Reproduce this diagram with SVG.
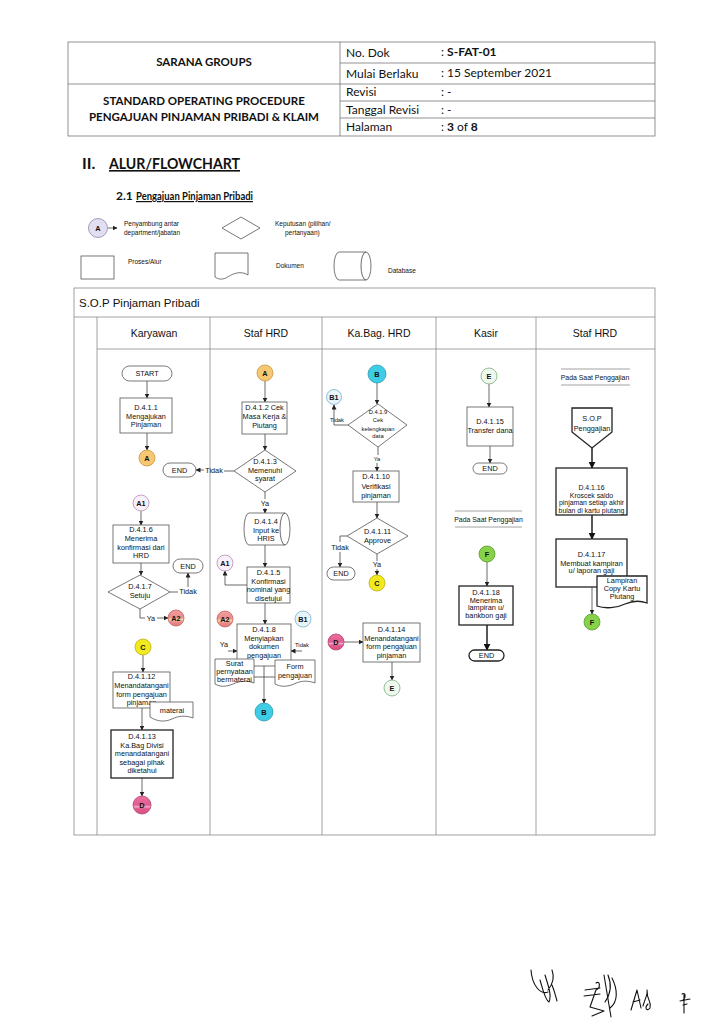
<svg xmlns="http://www.w3.org/2000/svg" width="716" height="1024" viewBox="0 0 716 1024">
<defs>
<marker id="ah" viewBox="0 0 10 10" refX="9" refY="5" markerWidth="5" markerHeight="5" orient="auto" markerUnits="userSpaceOnUse"><path d="M0,0 L10,5 L0,10 Z" fill="#222"/></marker>
<marker id="ahb" viewBox="0 0 10 10" refX="9" refY="5" markerWidth="7" markerHeight="7" orient="auto" markerUnits="userSpaceOnUse"><path d="M0,0 L10,5 L0,10 Z" fill="#111"/></marker>
<linearGradient id="gA2" x1="0" y1="0" x2="0" y2="1"><stop offset="0" stop-color="#f0a0a0"/><stop offset="0.45" stop-color="#e98c8c"/><stop offset="0.6" stop-color="#f8d0a0"/><stop offset="0.75" stop-color="#e98c8c"/><stop offset="1" stop-color="#e07a7a"/></linearGradient>
<linearGradient id="gD" x1="0" y1="0" x2="0" y2="1"><stop offset="0" stop-color="#ec70a0"/><stop offset="0.5" stop-color="#e25c8e"/><stop offset="0.6" stop-color="#f4a8c4"/><stop offset="0.7" stop-color="#e25c8e"/><stop offset="1" stop-color="#d84e82"/></linearGradient>
</defs>
<style>
.hd{font-family:Lato,"Liberation Sans",sans-serif;fill:#111}
.hb{font-weight:bold}
.t{font-family:"Liberation Sans",Arial,sans-serif;font-size:7.3px;fill:#111;text-anchor:middle}
.t2{font-size:6.9px}
.ts{font-family:"Liberation Sans",Arial,sans-serif;font-size:5.8px;fill:#111;text-anchor:middle}
.lg{font-family:"Liberation Sans",Arial,sans-serif;font-size:6.5px;fill:#111}
.ln{font-family:"Liberation Sans",Arial,sans-serif;font-size:10.5px;fill:#111;text-anchor:middle}
.bx{fill:#fff;stroke:#555;stroke-width:0.8}
.bk{fill:#fff;stroke:#222;stroke-width:1.3}
.c{stroke-width:0.8}
.tb{fill:none;stroke:#777;stroke-width:0.8}
.lane{fill:none;stroke:#8a8a8a;stroke-width:0.8}
.cn{fill:none;stroke:#444;stroke-width:0.8;marker-end:url(#ah)}
.cp{fill:none;stroke:#444;stroke-width:0.8}
.ck{fill:none;stroke:#111;stroke-width:1.4;marker-end:url(#ahb)}
.sg{fill:none;stroke:#111;stroke-width:1.1;stroke-linecap:round;stroke-linejoin:round}
</style>

<g id="header">
<rect class="tb" x="68" y="42" width="587" height="94"/>
<line class="tb" x1="340" y1="42" x2="340" y2="136"/>
<line class="tb" x1="68" y1="84" x2="340" y2="84"/>
<line class="tb" x1="340" y1="63" x2="655" y2="63"/>
<line class="tb" x1="340" y1="84" x2="655" y2="84"/>
<line class="tb" x1="340" y1="101" x2="655" y2="101"/>
<line class="tb" x1="340" y1="118" x2="655" y2="118"/>
<text class="hd hb" x="204" y="66" font-size="11.5" text-anchor="middle">SARANA GROUPS</text>
<text class="hd hb" x="204" y="105" font-size="11.5" text-anchor="middle">STANDARD OPERATING PROCEDURE</text>
<text class="hd hb" x="204" y="121" font-size="11.5" text-anchor="middle">PENGAJUAN PINJAMAN PRIBADI &amp; KLAIM</text>
<text class="hd" x="346" y="57" font-size="12">No. Dok</text>
<text class="hd" x="346" y="78" font-size="12">Mulai Berlaku</text>
<text class="hd" x="346" y="96" font-size="12">Revisi</text>
<text class="hd" x="346" y="114" font-size="12">Tanggal Revisi</text>
<text class="hd" x="346" y="131" font-size="12">Halaman</text>
<text class="hd" x="441" y="56" font-size="12">: <tspan font-weight="bold">S-FAT-01</tspan></text>
<text class="hd" x="441" y="77" font-size="12">: 15 September 2021</text>
<text class="hd" x="441" y="96" font-size="12">: -</text>
<text class="hd" x="441" y="114" font-size="12">: -</text>
<text class="hd" x="441" y="131" font-size="12">: <tspan font-weight="bold">3</tspan> of <tspan font-weight="bold">8</tspan></text>
</g>

<g id="titles">
<text class="hd hb" x="82" y="169" font-size="16">II.</text>
<text class="hd hb" x="109" y="169" font-size="16" text-decoration="underline" textLength="131" lengthAdjust="spacingAndGlyphs">ALUR/FLOWCHART</text>
<text class="hd hb" x="116" y="200" font-size="12">2.1</text>
<text class="hd hb" x="136" y="200" font-size="12" text-decoration="underline" textLength="117" lengthAdjust="spacingAndGlyphs">Pengajuan Pinjaman Pribadi</text>
</g>

<g id="legend">
<circle cx="98" cy="228" r="9.5" fill="#e4dff0" stroke="#8888aa" stroke-width="0.8"/>
<text class="t" x="98" y="230.5" font-weight="bold">A</text>
<line class="cn" x1="108" y1="228" x2="117" y2="228"/>
<text class="lg" x="124" y="226">Penyambung antar</text>
<text class="lg" x="124" y="235">department/jabatan</text>
<polygon class="bx" points="241,217 260,228 241,239 222,228"/>
<text class="lg" x="275" y="226">Keputusan (pilihan/</text>
<text class="lg" x="285" y="235">pertanyaan)</text>
<rect class="bx" x="81" y="256" width="33" height="23"/>
<text class="lg" x="128" y="264">Proses/Alur</text>
<path class="bx" d="M215,253 H248 V275 C240,270 232,274 226,278 C221,280 218,279 215,277 Z"/>
<text class="lg" x="276" y="268">Dokumen</text>
<path class="bx" d="M339,252 H366 A5,14 0 0 1 366,280 H339 A5,14 0 0 1 339,252 Z"/>
<path class="cp" d="M366,252 A5,14 0 0 0 366,280"/>
<text class="lg" x="388" y="273">Database</text>
</g>

<g id="frame">
<rect class="lane" x="74" y="288" width="581" height="547"/>
<line class="lane" x1="74" y1="317" x2="655" y2="317"/>
<line class="lane" x1="97" y1="349" x2="655" y2="349"/>
<line class="lane" x1="97" y1="317" x2="97" y2="835"/>
<line class="lane" x1="210" y1="317" x2="210" y2="835"/>
<line class="lane" x1="322" y1="317" x2="322" y2="835"/>
<line class="lane" x1="436" y1="317" x2="436" y2="835"/>
<line class="lane" x1="536" y1="317" x2="536" y2="835"/>
<text x="79" y="307" font-family="Liberation Sans, Arial, sans-serif" font-size="11.5" fill="#111">S.O.P Pinjaman Pribadi</text>
<text class="ln" x="154" y="337">Karyawan</text>
<text class="ln" x="266" y="337">Staf HRD</text>
<text class="ln" x="379" y="337">Ka.Bag. HRD</text>
<text class="ln" x="486" y="337">Kasir</text>
<text class="ln" x="595" y="337">Staf HRD</text>
</g>

<g id="connectors">
<line class="cn" x1="147" y1="381" x2="147" y2="398"/>
<line class="cn" x1="147" y1="433" x2="147" y2="450"/>
<line class="cn" x1="141" y1="511" x2="141" y2="525"/>
<line class="cn" x1="141" y1="563" x2="141" y2="575"/>
<path class="cp" d="M170,592 H178"/>
<line class="cn" x1="188" y1="587" x2="188" y2="573"/>
<path class="cp" d="M140,609 V618 H145"/>
<line class="cn" x1="157" y1="618" x2="168" y2="618"/>
<line class="cn" x1="143" y1="655" x2="143" y2="672"/>
<line class="cn" x1="142" y1="708" x2="142" y2="730"/>
<line class="cn" x1="142" y1="778" x2="142" y2="796"/>

<line class="cn" x1="265" y1="381" x2="265" y2="402"/>
<line class="cn" x1="265" y1="434" x2="265" y2="450"/>
<path class="cp" d="M234,471 H224"/>
<line class="cn" x1="204" y1="470" x2="196" y2="470"/>
<line class="cp" x1="265" y1="492" x2="265" y2="499"/>
<line class="cn" x1="265" y1="508" x2="265" y2="513"/>
<line class="cn" x1="265" y1="545" x2="265" y2="567"/>
<path class="cn" d="M247,585 H225 V571"/>
<line class="cn" x1="265" y1="603" x2="265" y2="624"/>
<line class="cn" x1="228" y1="651" x2="237" y2="651"/>
<line class="cn" x1="302" y1="651" x2="291" y2="651"/>
<line class="cp" x1="254" y1="677" x2="275" y2="677"/>
<line class="cn" x1="264" y1="666" x2="264" y2="703"/>

<line class="cn" x1="377" y1="383" x2="377" y2="404"/>
<path class="cn" d="M348,425 H334 V405"/>
<line class="cp" x1="378" y1="447" x2="378" y2="455"/>
<line class="cn" x1="377" y1="463" x2="377" y2="471"/>
<line class="cn" x1="377" y1="502" x2="377" y2="518"/>
<path class="cp" d="M347,536 H340 V542"/>
<line class="cn" x1="340" y1="552" x2="340" y2="567"/>
<line class="cp" x1="377" y1="554" x2="377" y2="561"/>
<line class="cn" x1="377" y1="569" x2="377" y2="575"/>
<line class="cn" x1="344" y1="642" x2="363" y2="642"/>
<line class="cn" x1="392" y1="662" x2="392" y2="680"/>

<line class="cn" x1="489" y1="384" x2="489" y2="407"/>
<line class="cn" x1="490" y1="446" x2="490" y2="463"/>
<line class="cn" x1="487" y1="562" x2="487" y2="586"/>
<line class="ck" x1="487" y1="625" x2="487" y2="650"/>

<line class="ck" x1="592" y1="448" x2="592" y2="468"/>
<line class="ck" x1="592" y1="515" x2="592" y2="539"/>
<line class="cn" x1="592" y1="587" x2="592" y2="614"/>
</g>

<g id="n-start"><rect class="bx" x="122" y="366" width="50" height="15" rx="7.5"/><text class="t" x="147" y="376">START</text></g>
<g id="n-d411"><rect class="bx" x="120" y="398" width="52" height="35"/><text class="t" x="146" y="410">D.4.1.1</text><text class="t" x="146" y="418.5">Mengajukan</text><text class="t" x="146" y="427">Pinjaman</text></g>
<g id="n-a-k"><circle class="c" cx="147" cy="458" r="8" fill="#f7c873" stroke="#c8963c"/><text class="t" x="147" y="460.5" font-weight="bold">A</text></g>
<g id="n-a1-k"><circle class="c" cx="141" cy="503" r="8" fill="#f8f0fa" stroke="#b58cb5"/><text class="t" x="141" y="505.5" font-weight="bold">A1</text></g>
<g id="n-d416"><rect class="bx" x="113" y="525" width="56" height="38"/><text class="t" x="141" y="532">D.4.1.6</text><text class="t" x="141" y="541">Menerima</text><text class="t" x="141" y="549.5">konfirmasi dari</text><text class="t" x="141" y="558">HRD</text></g>
<g id="n-d417"><polygon class="bx" points="140,575 170,592 140,609 108,592"/><text class="t" x="140" y="589">D.4.1.7</text><text class="t" x="140" y="598">Setuju</text></g>
<g id="n-end-k"><rect class="bx" x="173" y="559" width="30" height="14" rx="7"/><text class="t" x="188" y="568.5">END</text></g>
<text class="t" x="188" y="594">Tidak</text>
<text class="t" x="151" y="620.5">Ya</text>
<g id="n-a2-k"><circle class="c" cx="176" cy="618" r="8" fill="url(#gA2)" stroke="#c86060"/><text class="t" x="176" y="620.5" font-weight="bold">A2</text></g>
<g id="n-c-k"><circle class="c" cx="143" cy="647" r="8" fill="#f2ea1c" stroke="#b8b020"/><text class="t" x="143" y="649.5" font-weight="bold">C</text></g>
<g id="n-d4112"><rect class="bx" x="113" y="672" width="57" height="36"/><text class="t" x="141.5" y="678.5">D.4.1.12</text><text class="t" x="141.5" y="687.5">Menandatangani</text><text class="t" x="141.5" y="696.5">form pengajuan</text><text class="t" x="141.5" y="705">pinjaman</text></g>
<g id="n-materai"><path class="bx" d="M150,702 H193 V718 C185,715 178,716 172,719 C165,722 158,722 150,717 Z"/><text class="t" x="172" y="713">materai</text></g>
<g id="n-d4113"><rect class="bk" x="111" y="730" width="62" height="48"/><text class="t" x="142" y="739">D.4.1.13</text><text class="t" x="142" y="747.5">Ka.Bag Divisi</text><text class="t" x="142" y="756">menandatangani</text><text class="t" x="142" y="764.5">sebagai pihak</text><text class="t" x="142" y="773">diketahui</text></g>
<g id="n-d-k"><circle class="c" cx="142" cy="805" r="9" fill="url(#gD)" stroke="#b04070"/><text class="t" x="142" y="807.5" font-weight="bold">D</text></g>

<g id="n-a-s"><circle class="c" cx="265" cy="373" r="8" fill="#f7c873" stroke="#c8963c"/><text class="t" x="265" y="375.5" font-weight="bold">A</text></g>
<g id="n-d412"><rect class="bx" x="242" y="402" width="45" height="32"/><text class="t" x="264.5" y="409.5">D.4.1.2 Cek</text><text class="t" x="264.5" y="418.5">Masa Kerja &amp;</text><text class="t" x="264.5" y="427.5">Piutang</text></g>
<g id="n-d413"><polygon class="bx" points="265,450 296,471 265,492 234,471"/><text class="t" x="265" y="464">D.4.1.3</text><text class="t" x="265" y="472.5">Memenuhi</text><text class="t" x="265" y="481">syarat</text></g>
<g id="n-end-s"><rect class="bx" x="163" y="463" width="33" height="14" rx="7"/><text class="t" x="179.5" y="472.5">END</text></g>
<text class="t" x="214" y="472.5">Tidak</text>
<text class="t" x="265" y="506">Ya</text>
<g id="n-d414"><path class="bx" d="M249,513 H285 A5,16 0 0 1 285,545 H249 A5,16 0 0 1 249,513 Z"/><path class="cp" d="M285,513 A5,16 0 0 0 285,545"/><text class="t" x="266" y="524">D.4.1.4</text><text class="t" x="266" y="532.5">Input ke</text><text class="t" x="266" y="541">HRIS</text></g>
<g id="n-a1-s"><circle class="c" cx="225" cy="563" r="8" fill="#f8f0fa" stroke="#b58cb5"/><text class="t" x="225" y="565.5" font-weight="bold">A1</text></g>
<g id="n-d415"><rect class="bx" x="247" y="567" width="43" height="36"/><text class="t" x="268.5" y="574.5">D.4.1.5</text><text class="t" x="268.5" y="583.5">Konfirmasi</text><text class="t" x="268.5" y="592">nominal yang</text><text class="t" x="268.5" y="600.5">disetujui</text></g>
<g id="n-a2-s"><circle class="c" cx="225" cy="619" r="8" fill="url(#gA2)" stroke="#c86060"/><text class="t" x="225" y="621.5" font-weight="bold">A2</text></g>
<g id="n-b1-s"><circle class="c" cx="303" cy="619" r="8" fill="#e8f4fb" stroke="#7ab0cc"/><text class="t" x="303" y="621.5" font-weight="bold">B1</text></g>
<text class="t" x="224" y="647">Ya</text>
<text class="ts" x="302" y="647">Tidak</text>
<g id="n-d418"><rect class="bx" x="237" y="624" width="54" height="42"/><text class="t" x="264" y="631.5">D.4.1.8</text><text class="t" x="264" y="640.5">Menyiapkan</text><text class="t" x="264" y="649">dokumen</text><text class="t" x="264" y="657.5">pengajuan</text></g>
<g id="n-surat"><path class="bx" d="M215,659 H254 V683 C246,680 240,681 233,684 C226,687 220,687 215,684 Z"/><text class="t" x="234.5" y="665.5">Surat</text><text class="t" x="234.5" y="674">pernyataan</text><text class="t" x="234.5" y="682">bermaterai</text></g>
<g id="n-form"><path class="bx" d="M275,660 H315 V683 C307,680 300,681 294,684 C287,687 281,687 275,684 Z"/><text class="t" x="295" y="669">Form</text><text class="t" x="295" y="678">pengajuan</text></g>
<g id="n-b-s"><circle class="c" cx="264" cy="712" r="9" fill="#3fcde6" stroke="#2a9ab0"/><text class="t" x="264" y="714.5" font-weight="bold">B</text></g>

<g id="n-b-k"><circle class="c" cx="377" cy="374" r="9" fill="#3fcde6" stroke="#2a9ab0"/><text class="t" x="377" y="376.5" font-weight="bold">B</text></g>
<g id="n-b1-k"><circle class="c" cx="334" cy="397" r="7.5" fill="#e8f4fb" stroke="#7ab0cc"/><text class="t" x="334" y="399.5" font-weight="bold">B1</text></g>
<g id="n-d419"><polygon class="bx" points="378,404 407,425 378,447 348,425"/><text class="ts" x="378" y="414">D.4.1.9</text><text class="ts" x="378" y="421.5">Cek</text><text class="ts" x="378" y="430.5">kelengkapan</text><text class="ts" x="378" y="438">data</text></g>
<text class="ts" x="337" y="422">Tidak</text>
<text class="ts" x="377" y="461">Ya</text>
<g id="n-d4110"><rect class="bx" x="353" y="471" width="46" height="31"/><text class="t" x="376" y="479">D.4.1.10</text><text class="t" x="376" y="488.5">Verifikasi</text><text class="t" x="376" y="497.5">pinjaman</text></g>
<g id="n-d4111"><polygon class="bx" points="377,518 408,536 377,554 347,536"/><text class="t" x="377.5" y="534">D.4.1.11</text><text class="t" x="377.5" y="543">Approve</text></g>
<text class="t" x="340" y="549.5">Tidak</text>
<g id="n-end-kb"><rect class="bx" x="327" y="567" width="28" height="13" rx="6.5"/><text class="t" x="341" y="576">END</text></g>
<text class="t" x="377" y="567">Ya</text>
<g id="n-c-kb"><circle class="c" cx="377" cy="583" r="8" fill="#f2ea1c" stroke="#b8b020"/><text class="t" x="377" y="585.5" font-weight="bold">C</text></g>
<g id="n-d-kb"><circle class="c" cx="336" cy="642" r="8" fill="url(#gD)" stroke="#b04070"/><text class="t" x="336" y="644.5" font-weight="bold">D</text></g>
<g id="n-d4114"><rect class="bx" x="363" y="623" width="57" height="39"/><text class="t" x="391.5" y="631.5">D.4.1.14</text><text class="t" x="391.5" y="640.5">Menandatangani</text><text class="t" x="391.5" y="649">form pengajuan</text><text class="t" x="391.5" y="657.5">pinjaman</text></g>
<g id="n-e-kb"><circle class="c" cx="392" cy="688" r="8" fill="#eef8ee" stroke="#80b080"/><text class="t" x="392" y="690.5" font-weight="bold">E</text></g>

<g id="n-e-ks"><circle class="c" cx="489" cy="376" r="8" fill="#eef8ee" stroke="#80b080"/><text class="t" x="489" y="378.5" font-weight="bold">E</text></g>
<g id="n-d4115"><rect class="bx" x="467" y="407" width="46" height="39"/><text class="t" x="490" y="424">D.4.1.15</text><text class="t" x="490" y="433">Transfer dana</text></g>
<g id="n-end-ks"><rect class="bx" x="473" y="463" width="34" height="11" rx="5.5"/><text class="t" x="490" y="471">END</text></g>
<g id="n-pada-ks"><line class="lane" x1="455" y1="511" x2="522" y2="511"/><line class="lane" x1="455" y1="527" x2="522" y2="527"/><text class="t t2" x="488.5" y="521.5">Pada Saat Penggajian</text></g>
<g id="n-f-ks"><circle class="c" cx="487" cy="554" r="8" fill="#86d34a" stroke="#5a9a30"/><text class="t" x="487" y="556.5" font-weight="bold">F</text></g>
<g id="n-d4118"><rect class="bk" x="459" y="586" width="54" height="39"/><text class="t" x="486" y="595">D.4.1.18</text><text class="t" x="486" y="602.5">Menerima</text><text class="t" x="486" y="610">lampiran u/</text><text class="t" x="486" y="617.5">bankbon gaji</text></g>
<g id="n-end-ks2"><rect class="bk" x="469" y="650" width="35" height="11" rx="5.5"/><text class="t" x="486.5" y="658">END</text></g>

<g id="n-pada-s2"><line class="lane" x1="561" y1="369" x2="630" y2="369"/><line class="lane" x1="561" y1="385" x2="630" y2="385"/><text class="t t2" x="595" y="379.5">Pada Saat Penggajian</text></g>
<g id="n-sop"><path class="bk" d="M572,408 H612 V432 L592,448 L572,432 Z"/><text class="t" x="592" y="421">S.O.P</text><text class="t" x="592" y="430.5">Penggajian</text></g>
<g id="n-d4116"><rect class="bk" x="556" y="468" width="71" height="47"/><text class="t t2" x="591.5" y="489.5">D.4.1.16</text><text class="t t2" x="591.5" y="497.5">Kroscek saldo</text><text class="t t2" x="591.5" y="505">pinjaman setiap akhir</text><text class="t t2" x="591.5" y="512.5">bulan di kartu piutang</text></g>
<g id="n-d4117"><rect class="bk" x="556" y="539" width="71" height="48"/><text class="t" x="591.5" y="557">D.4.1.17</text><text class="t" x="591.5" y="565.5">Membuat kampiran</text><text class="t" x="591.5" y="573">u/ laporan gaji</text></g>
<g id="n-lampiran"><path class="bk" d="M597,576 H647 V603 C639,600 632,601 625,604 C617,608 605,609 597,606 Z" stroke-width="1"/><text class="t" x="622" y="583">Lampiran</text><text class="t" x="622" y="590.5">Copy Kartu</text><text class="t" x="622" y="599">Piutang</text></g>
<g id="n-f-s2"><circle class="c" cx="592" cy="622" r="8" fill="#86d34a" stroke="#5a9a30"/><text class="t" x="592" y="624.5" font-weight="bold">F</text></g>

<g id="signatures">
<path class="sg" d="M531,970 C532,985 540,995 548,992 M540,980 C543,990 545,1000 549,1002 C552,995 548,985 545,975 M548,990 C552,985 555,978 552,970 M552,985 C555,992 556,998 557,1001"/>
<path class="sg" stroke="#2244cc" d="M585,990 L600,988 M584,996 L600,994 M596,983 C600,980 601,988 596,990 M596,990 L590,1007 L604,1011 L592,1016 M604,975 L611,1017"/>
<path class="sg" d="M608,975 C612,985 610,995 605,1002 M612,978 C618,990 618,1002 610,1008"/>
<path class="sg" d="M631,1010 L637,990 L641,1008 M633,1002 L640,1000 M643,1006 C646,996 648,994 647,990 C647,1003 652,1000 650,1008 C647,1012 644,1008 648,1004"/>
<path class="sg" d="M682,994 C686,992 686,998 683,1000 M680,1001 L690,999 M684,995 L684,1013 M683,1005 L687,1004"/>
</g>
</svg>
